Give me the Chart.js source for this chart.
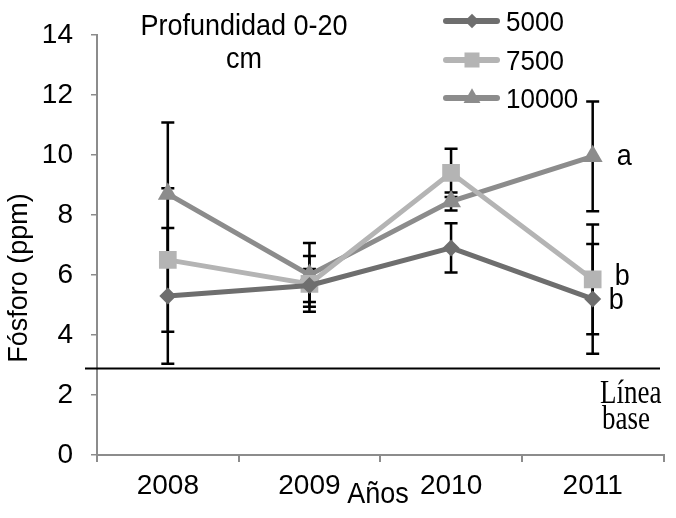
<!DOCTYPE html>
<html>
<head>
<meta charset="utf-8">
<script src="https://cdn.jsdelivr.net/npm/chart.js@4.4.1/dist/chart.umd.min.js"></script>
<style>
  html, body { margin: 0; padding: 0; background: #fff; }
  #wrap { width: 676px; height: 518px; }
</style>
</head>
<body>
<div id="wrap"><canvas id="chart" width="676" height="518"></canvas></div>
<script>
// datos
const years = ['2008', '2009', '2010', '2011'];
const seriesNames = ['5000', '7500', '10000'];
const fosforo5000 = [5.3, 5.65, 6.9, 5.2];
const fosforo7500 = [6.5, 5.7, 9.4, 5.85];
const fosforo10000 = [8.7, 6.0, 8.45, 9.95];
const error5000 = [2.26, 0.55, 0.82, 1.83];
const error7500 = [2.39, 0.93, 0.8, 1.83];
const error10000 = [2.38, 1.06, 0.3, 1.83];
const letras2011 = ['b', 'b', 'a'];
const yMin = 0, yMax = 14, yStep = 2;
const lineaBase = 2.88;

const FONT = "'Liberation Sans', Arial, sans-serif";
const SERIF = "'Liberation Serif', 'Times New Roman', serif";
const colores = ['#6e6e6e', '#b4b4b4', '#8c8c8c'];
const marcadores = ['rectRot', 'rect', 'triangle'];
const radios = [8.5, 12.5, 11.5];

Chart.defaults.font.family = FONT;
Chart.defaults.color = '#000';

// texto algo estirado en vertical, como en la imagen original
function textoAlto(ctx, txt, x, y, sy) {
    ctx.save();
    ctx.translate(x, y);
    ctx.scale(1, sy);
    ctx.fillText(txt, 0, 0);
    ctx.restore();
}

function drawMarker(ctx, style, x, y, r, color) {
    ctx.fillStyle = color;
    ctx.beginPath();
    if (style === 'rectRot') {
        ctx.moveTo(x, y - r); ctx.lineTo(x + r, y); ctx.lineTo(x, y + r); ctx.lineTo(x - r, y);
    } else if (style === 'rect') {
        const s = r * Math.SQRT1_2;
        ctx.rect(x - s, y - s, 2 * s, 2 * s);
    } else {
        ctx.moveTo(x, y - r);
        ctx.lineTo(x + r * Math.sin(Math.PI * 2 / 3), y - r * Math.cos(Math.PI * 2 / 3));
        ctx.lineTo(x + r * Math.sin(Math.PI * 4 / 3), y - r * Math.cos(Math.PI * 4 / 3));
    }
    ctx.closePath();
    ctx.fill();
}

const extras = {
    id: 'extras',
    beforeDatasetsDraw(chart) {
        const ctx = chart.ctx;
        const y = chart.scales.y;
        ctx.save();
        // línea base
        const yb = y.getPixelForValue(lineaBase);
        ctx.strokeStyle = '#000';
        ctx.lineWidth = 2;
        ctx.beginPath();
        ctx.moveTo(85, yb);
        ctx.lineTo(660, yb);
        ctx.stroke();
        // barras de error
        ctx.lineWidth = 2.5;
        chart.data.datasets.forEach((ds, i) => {
            const meta = chart.getDatasetMeta(i);
            meta.data.forEach((pt, j) => {
                const v = ds.data[j], e = ds.errors[j];
                const top = y.getPixelForValue(v + e);
                const bot = y.getPixelForValue(v - e);
                ctx.beginPath();
                ctx.moveTo(pt.x, top); ctx.lineTo(pt.x, bot);
                ctx.moveTo(pt.x - 6.5, top); ctx.lineTo(pt.x + 6.5, top);
                ctx.moveTo(pt.x - 6.5, bot); ctx.lineTo(pt.x + 6.5, bot);
                ctx.stroke();
            });
        });
        ctx.restore();
    },
    afterDraw(chart) {
        const ctx = chart.ctx;
        const sy = 1.12;
        ctx.save();
        ctx.fillStyle = '#000';
        ctx.textAlign = 'center';
        ctx.textBaseline = 'alphabetic';
        ctx.font = '27px ' + FONT;
        textoAlto(ctx, 'Profundidad 0-20', 244, 35, sy);
        textoAlto(ctx, 'cm', 244, 68, sy);
        textoAlto(ctx, 'Años', 378, 503, sy);

        // título eje y
        ctx.save();
        ctx.translate(27, 278);
        ctx.rotate(-Math.PI / 2);
        ctx.fillText('Fósforo (ppm)', 0, 0);
        ctx.restore();

        // letras de significancia en 2011
        ctx.textAlign = 'left';
        const last = years.length - 1;
        const offs = [[16, 10], [22, 6], [24, 9]];
        chart.data.datasets.forEach((ds, i) => {
            const pt = chart.getDatasetMeta(i).data[last];
            textoAlto(ctx, letras2011[i], pt.x + offs[i][0], pt.y + offs[i][1], sy);
        });

        // Línea base
        ctx.font = '27px ' + SERIF;
        textoAlto(ctx, 'Línea', 600, 403, 1.22);
        textoAlto(ctx, 'base', 602, 429, 1.22);

        // leyenda
        ctx.font = '26px ' + FONT;
        const rows = [21, 60, 98];
        chart.data.datasets.forEach((ds, i) => {
            const yy = rows[i];
            ctx.strokeStyle = ds.borderColor;
            ctx.lineWidth = 6;
            ctx.lineCap = 'round';
            ctx.beginPath();
            ctx.moveTo(446, yy); ctx.lineTo(497, yy);
            ctx.stroke();
            drawMarker(ctx, marcadores[i], 472, yy, radios[i] * 0.85, ds.borderColor);
            ctx.fillStyle = '#000';
            textoAlto(ctx, ds.label, 506, yy + 10, 1.05);
        });
        ctx.restore();
    }
};

const valores = [fosforo5000, fosforo7500, fosforo10000];
const errores = [error5000, error7500, error10000];

new Chart(document.getElementById('chart'), {
    type: 'line',
    data: {
        labels: years,
        datasets: seriesNames.map((name, i) => ({
            label: name,
            data: valores[i],
            errors: errores[i],
            borderColor: colores[i],
            backgroundColor: colores[i],
            borderWidth: 5,
            pointStyle: marcadores[i],
            pointRadius: radios[i],
            pointHoverRadius: radios[i],
            pointBorderWidth: 0,
            tension: 0,
            fill: false
        }))
    },
    options: {
        responsive: false,
        animation: false,
        events: [],
        layout: { padding: { top: 27, right: 0, bottom: 0, left: 0 } },
        plugins: {
            legend: { display: false },
            tooltip: { enabled: false }
        },
        scales: {
            x: {
                offset: true,
                grid: {
                    offset: true,
                    drawOnChartArea: false,
                    drawTicks: true,
                    tickLength: 7,
                    color: '#8c8c8c',
                    lineWidth: 2
                },
                border: { color: '#8c8c8c', width: 2 },
                ticks: { font: { size: 28 }, padding: 7, color: '#000' },
                afterFit(scale) { scale.height = 63; }
            },
            y: {
                min: yMin,
                max: yMax,
                grid: {
                    drawOnChartArea: false,
                    drawTicks: true,
                    tickLength: 6,
                    color: '#8c8c8c',
                    lineWidth: 1.5
                },
                border: { color: '#8c8c8c', width: 2 },
                ticks: { stepSize: yStep, font: { size: 28 }, padding: 18, color: '#000' },
                afterFit(scale) { scale.width = 97; }
            }
        }
    },
    plugins: [extras]
});
</script>
</body>
</html>
